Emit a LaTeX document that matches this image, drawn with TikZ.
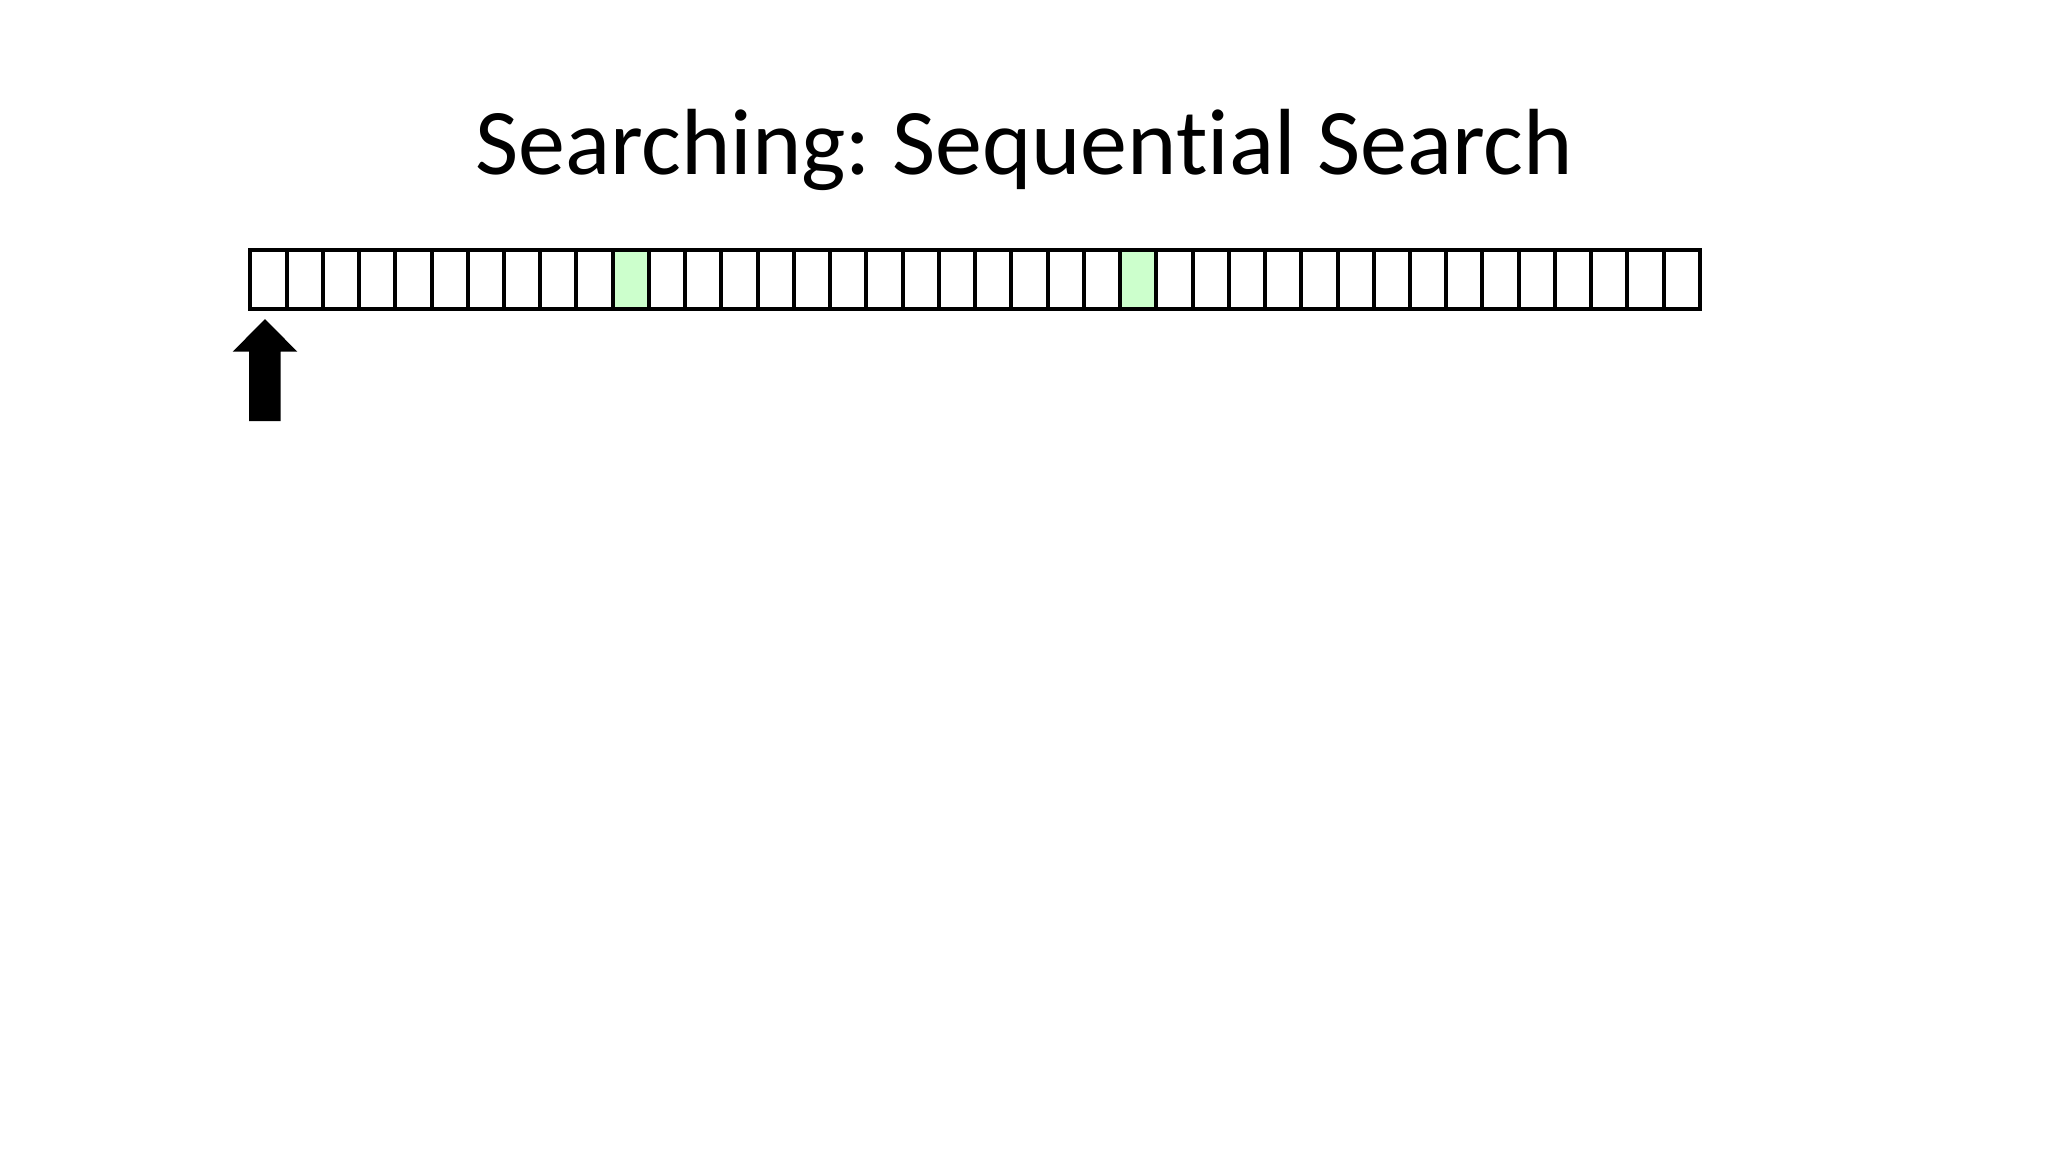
\documentclass[tikz,border=0pt]{standalone}
\usepackage{fontspec}
\setmainfont{Carlito}[Ligatures={NoCommon}]
\frenchspacing
\tikzset{
  cell/.style={draw=black, line width=4pt, minimum width=36.24pt, minimum height=58.4pt, inner sep=0pt, outer sep=0pt, fill=white},
  hit/.style={cell, fill=hitgreen},
  pointer/.style={fill=black, draw=none}
}
\definecolor{hitgreen}{HTML}{CCFFCC}
\begin{document}
\begin{tikzpicture}[x=1pt, y=-1pt]
\useasboundingbox (0,0) rectangle (2048,1152);
\node[anchor=base, font=\fontsize{94}{110}\selectfont] (title) at (1024,174) {Searching: Sequential Search};
\foreach \i in {0,...,39}{
  \ifnum\i=10
    \node[hit] (c\i) at ({250.3+36.24*(\i+0.5)},279.5) {};
  \else\ifnum\i=24
    \node[hit] (c\i) at ({250.3+36.24*(\i+0.5)},279.5) {};
  \else
    \node[cell] (c\i) at ({250.3+36.24*(\i+0.5)},279.5) {};
  \fi\fi
}
\fill[pointer] (265,319) -- (297.3,351.7) -- (280.7,351.7) -- (280.7,421) -- (249,421) -- (249,351.7) -- (232.7,351.7) -- cycle;
\end{tikzpicture}
\end{document}
